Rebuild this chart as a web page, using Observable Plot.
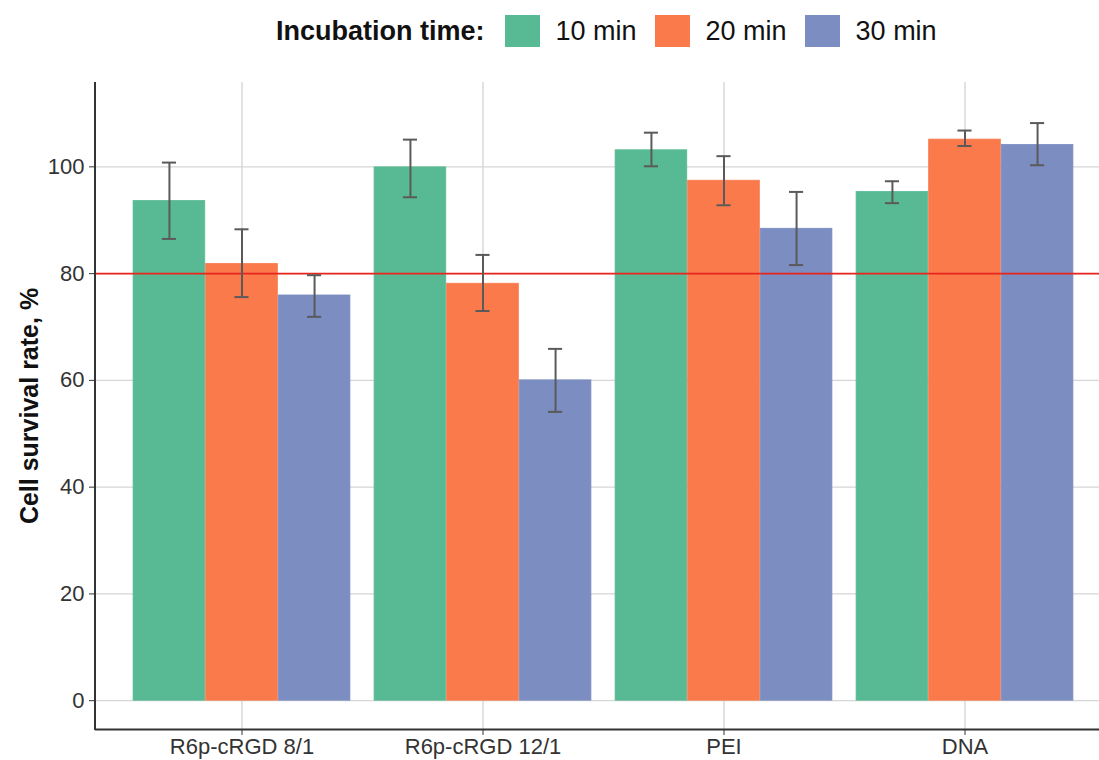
<!DOCTYPE html>
<html>
<head>
<meta charset="utf-8">
<script src="https://cdn.jsdelivr.net/npm/d3@7"></script>
<script src="https://cdn.jsdelivr.net/npm/@observablehq/plot@0.6"></script>
<style>
  html, body { margin: 0; padding: 0; background: #fff; overflow: hidden; }
  body { width: 1099px; height: 760px; font-family: "Liberation Sans", Arial, Helvetica, sans-serif; }
  #legend { position: relative; height: 62px; }
  #legend .row { position: absolute; left: 276px; top: 0; height: 62px; display: flex; align-items: center; font-size: 27px; color: #111; }
  #legend .title { font-weight: bold; margin-right: 20px; }
  #legend .sw { width: 35px; height: 32px; }
  #legend .lab { margin-left: 16px; margin-right: 18px; }
</style>
</head>
<body>
<div id="legend"><div class="row" id="legendRow"></div></div>
<div id="chart"></div>
<script>
const categories = ["R6p-cRGD 8/1", "R6p-cRGD 12/1", "PEI", "DNA"];
const times = ["10 min", "20 min", "30 min"];
const colors = ["#58ba94", "#fa7a4c", "#7b8dc1"];

const mean10 = [93.6, 99.9, 103.1, 95.3];
const mean20 = [81.8, 78.1, 97.4, 105.1];
const mean30 = [75.9, 60.0, 88.4, 104.1];
const lo10 = [86.5, 94.3, 100.1, 93.2];
const hi10 = [100.8, 105.1, 106.4, 97.3];
const lo20 = [75.6, 73.0, 92.8, 103.9];
const hi20 = [88.3, 83.5, 102.0, 106.8];
const lo30 = [71.9, 54.1, 81.6, 100.3];
const hi30 = [79.7, 65.9, 95.3, 108.2];
const yTicks = [0, 20, 40, 60, 80, 100];
const threshold = 80;

const means = [mean10, mean20, mean30];
const los = [lo10, lo20, lo30];
const his = [hi10, hi20, hi30];

const series = times.map((t, j) => categories.map((c, i) => ({
  category: c, time: t, value: means[j][i], lo: los[j][i], hi: his[j][i]
})));

// legend
const row = document.getElementById("legendRow");
const title = document.createElement("span");
title.className = "title"; title.textContent = "Incubation time:";
row.appendChild(title);
times.forEach((t, j) => {
  const sw = document.createElement("span");
  sw.className = "sw"; sw.style.background = colors[j];
  const lab = document.createElement("span");
  lab.className = "lab"; lab.textContent = t;
  row.appendChild(sw); row.appendChild(lab);
});

// layout
const W = 1099, H = 698, mL = 95, mT = 20, mB = 31;
const rangeX = [mL, 1111];
const padOuter = 0.1;
const step = (rangeX[1] - rangeX[0]) / (categories.length + 2 * padOuter);
const groupPad = 0.05 * step;
const barW = 0.9 * step / times.length;
const capW = 15;

const marks = [
  Plot.gridY(yTicks, {stroke: "#d6d6d6", strokeOpacity: 1, strokeWidth: 1.4}),
  Plot.gridX({stroke: "#d6d6d6", strokeOpacity: 1, strokeWidth: 1.4}),
];
series.forEach((data, j) => {
  marks.push(Plot.barY(data, {
    x: "category", y1: 0, y2: "value", fill: colors[j], stroke: colors[j], strokeWidth: 0.8,
    insetLeft: groupPad + j * barW, insetRight: groupPad + (2 - j) * barW
  }));
});
marks.push(Plot.ruleY([threshold], {stroke: "#e8241c", strokeWidth: 1.8}));
series.forEach((data, j) => {
  marks.push(Plot.ruleX(data, {
    x: "category", y1: "lo", y2: "hi", dx: (j - 1) * barW,
    stroke: "#5a5a5a", strokeWidth: 2
  }));
  const capInsetL = groupPad + j * barW + (barW - capW) / 2;
  const capInsetR = groupPad + (2 - j) * barW + (barW - capW) / 2;
  ["lo", "hi"].forEach(k => marks.push(Plot.tickY(data, {
    x: "category", y: k, stroke: "#5a5a5a", strokeWidth: 2,
    insetLeft: capInsetL, insetRight: capInsetR
  })));
});
marks.push(Plot.ruleY([-5.4], {stroke: "#333", strokeWidth: 2}));
marks.push((index, scales, values, dims) => {
  const g = document.createElementNS("http://www.w3.org/2000/svg", "line");
  g.setAttribute("x1", dims.marginLeft); g.setAttribute("x2", dims.marginLeft);
  g.setAttribute("y1", dims.marginTop); g.setAttribute("y2", dims.height - dims.marginBottom + 1);
  g.setAttribute("stroke", "#333"); g.setAttribute("stroke-width", 2);
  return g;
});
marks.push(Plot.axisY({ticks: yTicks, tickSize: 6, tickPadding: 5, fontSize: 22, label: null, color: "#333"}));
marks.push(Plot.axisX({tickSize: 6, tickPadding: 3, fontSize: 22, label: null, color: "#333"}));
marks.push(Plot.text(["Cell survival rate, %"], {
  frameAnchor: "left", rotate: -90, dx: -66, fontSize: 25, fontWeight: "bold", fill: "#111",
  textAnchor: "middle", lineAnchor: "middle"
}));

const chart = Plot.plot({
  width: W, height: H,
  marginLeft: mL, marginRight: 0, marginTop: mT, marginBottom: mB,
  style: {fontFamily: "Liberation Sans, Arial, Helvetica, sans-serif", background: "#fff"},
  x: {domain: categories, range: rangeX, padding: 0, paddingOuter: padOuter, paddingInner: 0, axis: null},
  y: {domain: [-5.4, 115.8], axis: null},
  marks
});
document.getElementById("chart").appendChild(chart);
</script>
</body>
</html>
